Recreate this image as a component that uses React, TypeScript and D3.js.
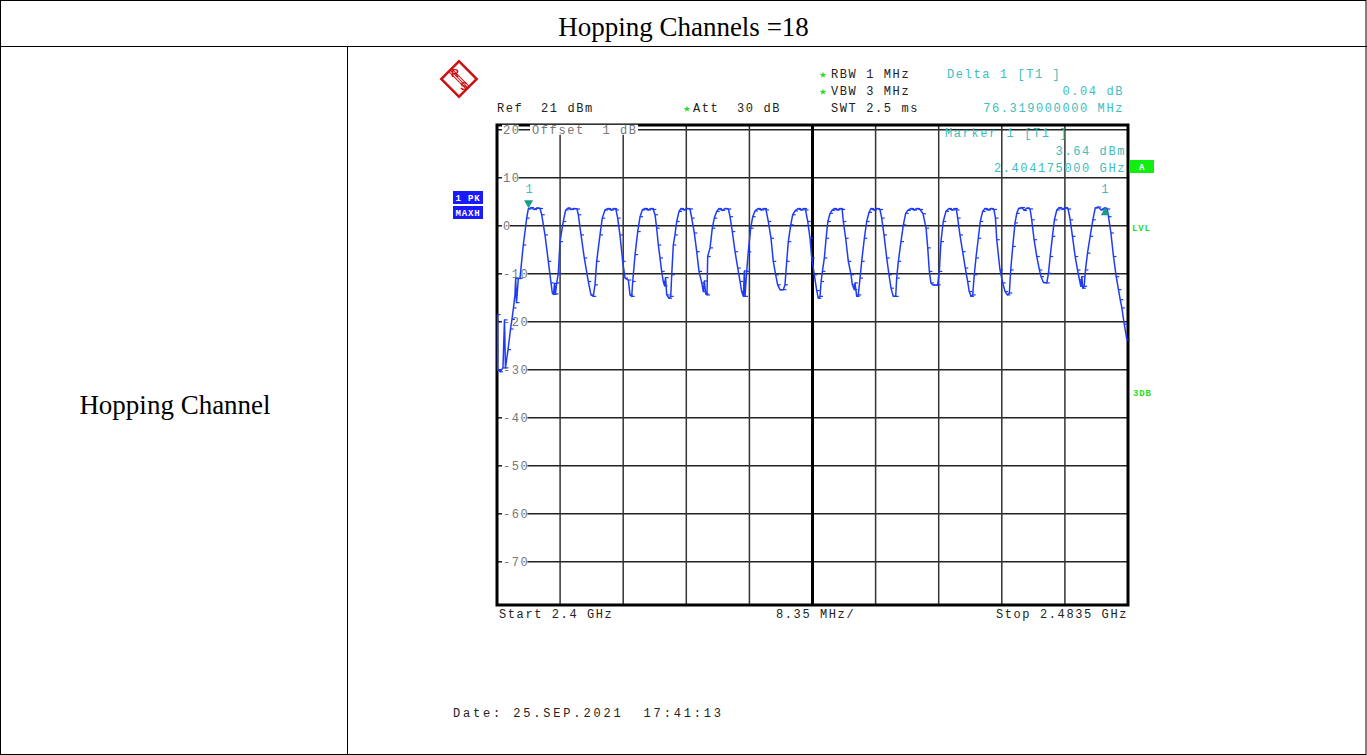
import React, { useEffect, useRef } from "react";
import * as d3 from "d3";

// frequency offset from 2400 MHz, level in dBm (max hold trace)
const trace: [number, number][] = [
  [0.07, -18.5], [0.07, -30], [0.4, -30.4], [0.79, -29.6], [0.99, -19.6], [1.12, -29.6], [1.46, -25.8],
  [1.79, -21.5], [1.98, -19.5], [2.18, -17.1], [2.38, -14.4], [2.47, -11], [2.58, -16], [2.82, -11],
  [3.04, -10.9], [3.48, -4], [3.93, 1.6], [4.14, 3.5], [4.5, 3.8], [4.9, 3.4], [5.29, 3.7], [5.69, 3.6],
  [5.92, 2.3], [6.35, -1.9], [6.79, -7.4], [7.15, -11.9], [7.32, -14], [7.48, -14.3], [7.61, -12],
  [7.74, -14.2], [7.9, -11.9], [8.11, -9.9], [8.34, -3.3], [8.77, 0.9], [9.09, 3.3], [9.4, 3.7],
  [9.79, 3.4], [10.19, 3.6], [10.59, 3.5],
  [10.76, 2.3], [11.12, -1.9], [11.55, -6.7], [12.08, -11.6], [12.44, -14.4], [12.74, -14.7],
  [12.97, -12.3], [13.19, -7.4], [13.63, -1.9], [13.93, 1.6], [14.29, 3.3], [14.69, 3.6], [15.09, 3.3],
  [15.49, 3.6], [15.75, 3.3],
  [15.97, 1.6], [16.27, -1.9], [16.63, -7.4], [16.94, -10.9], [17.38, -11.3], [17.6, -14.4],
  [17.83, -14.7], [17.96, -11.6], [18.27, -6], [18.62, -1.2], [18.93, 1.9], [19.23, 3.3], [19.59, 3.6],
  [19.98, 3.3], [20.38, 3.6], [20.68, 3.4],
  [20.91, 2.3], [21.13, -0.5], [21.35, -4], [21.57, -6.7], [21.79, -9.5], [22.0, -11.6], [22.17, -12.5],
  [22.3, -10.8], [22.46, -14.4], [22.76, -15.1], [22.99, -14.7], [23.12, -10.2], [23.33, -4],
  [23.55, -1.9], [23.78, 0.9], [24.09, 3], [24.35, 3.6], [24.75, 3.3], [25.14, 3.6], [25.54, 3.5],
  [25.77, 1.6], [26.11, -1.5], [26.43, -5.4], [26.73, -9.5], [27.09, -11.9], [27.3, -13.7],
  [27.43, -11.5], [27.62, -14.2], [27.79, -14.4], [27.88, -6.4], [28.19, -4.6], [28.49, -0.5],
  [28.75, 1.6], [29.07, 3], [29.38, 3.6], [29.78, 3.2], [30.18, 3.6], [30.62, 3.5],
  [30.84, 1.9], [31.14, -1.2], [31.5, -5.4], [31.86, -8.8], [32.16, -11.6], [32.38, -13.7],
  [32.6, -14.7], [32.73, -9.4], [32.82, -14.7], [33.04, -9.5], [33.25, -5.4], [33.57, -0.5],
  [33.84, 1.9], [34.14, 3.1], [34.54, 3.6], [34.94, 3.3], [35.33, 3.6], [35.6, 3.3],
  [35.9, 0.9], [36.26, -2.6], [36.56, -7.4], [36.88, -10.2], [37.14, -12.3], [37.45, -13.3],
  [37.89, -13.3], [38.11, -12.3], [38.34, -7.4], [38.55, -3.3], [38.87, 0.2], [39.13, 2.3],
  [39.44, 3.1], [39.83, 3.6], [40.23, 3.3], [40.63, 3.6], [40.83, 3.3],
  [41.12, 0.9], [41.42, -2.6], [41.65, -6.7], [41.99, -10.2], [42.31, -13.5], [42.52, -15.1],
  [42.75, -14.7], [42.89, -11.6], [43.06, -9.5], [43.32, -6.7], [43.55, -2.6], [43.78, 0.9],
  [44.08, 2.6], [44.32, 3.2], [44.62, 3.6], [45.02, 3.3], [45.42, 3.6], [45.68, 3.4],
  [45.83, 0.9], [46.14, -2.6], [46.49, -7.4], [46.85, -10.2], [47.02, -12.3], [47.28, -13.3],
  [47.37, -11.9], [47.6, -14.7], [47.81, -14.4], [48.04, -10.9], [48.26, -7.4], [48.61, -2.6],
  [48.92, 0.9], [49.23, 2.8], [49.49, 3.6], [49.89, 3.3], [50.28, 3.6], [50.68, 3.4],
  [50.91, 1.6], [51.21, -1.9], [51.57, -6.7], [51.87, -10.2], [52.14, -13], [52.44, -14.7],
  [52.76, -14.7], [52.89, -10.9], [53.11, -7.4], [53.46, -3.3], [53.77, 0.2], [54.08, 2.6],
  [54.35, 3.2], [54.79, 3.6], [55.18, 3.3], [55.58, 3.6], [55.98, 3.4],
  [56.38, 2.5], [56.78, -0.5], [57.0, -4.6], [57.21, -9.5], [57.42, -11.9], [57.65, -12.3],
  [58.09, -12.4], [58.31, -12.3], [58.53, -9.5], [58.75, -3.3], [59.05, 0.9], [59.41, 3],
  [59.81, 3.6], [60.2, 3.3], [60.6, 3.6], [60.8, 3.3],
  [60.96, 1.6], [61.26, -1.9], [61.62, -5.4], [61.97, -8.8], [62.28, -11.6], [62.49, -13.7],
  [62.72, -14.7], [62.95, -14.4], [63.16, -10.2], [63.38, -6.7], [63.69, -2.6], [63.95, 0.9],
  [64.27, 3], [64.57, 3.6], [64.97, 3.3], [65.37, 3.6], [65.76, 3.4],
  [65.96, 1.6], [66.13, -2.9], [66.56, -9.2], [66.92, -11.9], [67.23, -13.7], [67.53, -14.4],
  [67.8, -14], [67.98, -9.2], [68.25, -4.3], [68.55, 0.6], [68.78, 2.6], [69.02, 3.6], [69.48, 3.8],
  [69.75, 3.2], [70.14, 3.7], [70.54, 3.5],
  [70.76, 1.25], [71.07, -2.9], [71.43, -6.4], [71.78, -9.2], [72.0, -10.6], [72.31, -11.8],
  [72.76, -11.9], [72.97, -9.9], [73.2, -6.4], [73.5, -2.2], [73.76, 1.25], [74.08, 3.3],
  [74.39, 3.8], [74.79, 3.4], [75.18, 3.8], [75.58, 3.5],
  [75.85, 1.25], [76.15, -2.2], [76.51, -6.4], [76.82, -9.2], [77.08, -11.25], [77.26, -12.6],
  [77.39, -10.6], [77.52, -13], [77.7, -12.6], [77.87, -9.2], [78.14, -5.7], [78.49, -2.2],
  [78.85, 1.25], [79.16, 3.7], [79.55, 3.9], [79.95, 3.3], [80.35, 3.7], [80.75, 3.5],
  [80.92, 1.9], [81.24, -1.5], [81.58, -6.4], [81.94, -10.6], [82.24, -13.3], [82.47, -15.4],
  [82.69, -17.1], [83.0, -20.5], [83.36, -23.75],
];

const levelTicks = [20, 10, 0, -10, -20, -30, -40, -50, -60, -70];
const spanMHz = 83.5;
const divisions = 10;
const marker1: [number, number] = [4.175, 3.64];
const delta1: [number, number] = [4.175 + 76.319, 3.68];

const App = () => {
  const ref = useRef<SVGSVGElement>(null);

  useEffect(() => {
    const svg = d3.select(ref.current);
    svg.selectAll("*").remove();

    const W = 1367, H = 755;
    const mono = "'Liberation Mono', monospace";
    const cyan = "#3dbdbd";
    const green = "#1fdd1f";
    const blue = "#1a1aff";

    // ---- table ----
    const tbl = svg.append("g").attr("stroke", "#000").attr("stroke-width", 1);
    tbl.append("rect").attr("x", 0.5).attr("y", 0.5).attr("width", W - 1.5).attr("height", H - 1).attr("fill", "none");
    tbl.append("line").attr("x1", 0).attr("x2", W).attr("y1", 46.5).attr("y2", 46.5);
    tbl.append("line").attr("x1", 347.5).attr("x2", 347.5).attr("y1", 46).attr("y2", H);

    svg.append("text").attr("x", W / 2).attr("y", 36).attr("text-anchor", "middle")
      .style("font-family", "'Liberation Serif', serif").style("font-size", "27px")
      .text("Hopping Channels =18");
    svg.append("text").attr("x", 175).attr("y", 414).attr("text-anchor", "middle")
      .style("font-family", "'Liberation Serif', serif").style("font-size", "27px")
      .text("Hopping Channel");

    // ---- analyzer screen ----
    const x = d3.scaleLinear().domain([0, spanMHz]).range([497, 1128]);
    const y = d3.scaleLinear().domain([-79, 21]).range([605, 125]);

    const txt = (tx: number, ty: number, s: string, color = "#222", anchor = "start") =>
      svg.append("text").attr("x", tx).attr("y", ty).attr("text-anchor", anchor)
        .attr("fill", color).style("font-family", mono).style("font-size", "12px")
        .style("letter-spacing", "1.6px").style("white-space", "pre").text(s);

    // grid
    const grid = svg.append("g");
    levelTicks.forEach((v) => {
      grid.append("line").attr("x1", x(0)).attr("x2", x(spanMHz)).attr("y1", y(v)).attr("y2", y(v))
        .attr("stroke", "#222").attr("stroke-width", 1.5);
    });
    d3.range(1, divisions).forEach((i) => {
      grid.append("line").attr("x1", x(i * spanMHz / divisions)).attr("x2", x(i * spanMHz / divisions))
        .attr("y1", y(21)).attr("y2", y(-79))
        .attr("stroke", i === 5 ? "#000" : "#333").attr("stroke-width", i === 5 ? 3 : 1.5);
    });
    grid.append("rect").attr("x", x(0)).attr("y", y(21)).attr("width", x(spanMHz) - x(0))
      .attr("height", y(-79) - y(21)).attr("fill", "none").attr("stroke", "#000").attr("stroke-width", 3);

    // level labels
    levelTicks.forEach((v) => {
      const s = String(v);
      const w = s.length * 8.8;
      grid.append("rect").attr("x", x(0) + 5).attr("y", y(v) - 5).attr("width", w - 1).attr("height", 10).attr("fill", "#fff");
      txt(x(0) + 6, y(v) + 4, s, "#777");
    });
    svg.append("rect").attr("x", 530).attr("y", y(20) - 5).attr("width", 108).attr("height", 10).attr("fill", "#fff");
    txt(532, y(20) + 4, "Offset  1 dB", "#777");

    // header texts
    txt(497, 112, "Ref  21 dBm");
    txt(693, 112, "Att  30 dB");
    txt(831, 78, "RBW 1 MHz");
    txt(831, 95, "VBW 3 MHz");
    txt(831, 112, "SWT 2.5 ms");
    [[687, 112], [823, 78], [823, 95]].forEach(([sx, sy]) =>
      svg.append("path").attr("d", d3.symbol(d3.symbolStar, 14)() as string)
        .attr("transform", `translate(${sx},${sy - 3})`).attr("fill", green));
    txt(947, 78, "Delta 1 [T1 ]", cyan);
    txt(1124, 95, "0.04 dB", cyan, "end");
    txt(1124, 112, "76.319000000 MHz", cyan, "end");
    txt(945, 137, "Marker 1 [T1 ]", cyan);
    txt(1126, 155, "3.64 dBm", cyan, "end");
    txt(1126, 172, "2.404175000 GHz", cyan, "end");

    // bottom texts
    txt(499, 618, "Start 2.4 GHz");
    txt(776, 618, "8.35 MHz/");
    txt(1128, 618, "Stop 2.4835 GHz", "#222", "end");
    svg.append("text").attr("x", 453).attr("y", 717).attr("fill", "#222")
      .style("font-family", mono).style("font-size", "12px").style("white-space", "pre")
      .attr("textLength", 268).attr("lengthAdjust", "spacing")
      .text("Date: 25.SEP.2021  17:41:13");

    // side boxes
    const boxText = (bx: number, by: number, s: string, color: string, anchor = "middle") =>
      svg.append("text").attr("x", bx).attr("y", by).attr("text-anchor", anchor).attr("fill", color)
        .style("font-family", mono).style("font-size", "9px").style("font-weight", "bold")
        .style("letter-spacing", "0.8px").style("white-space", "pre").text(s);
    [["1 PK", 191], ["MAXH", 206]].forEach(([s, by]) => {
      svg.append("rect").attr("x", 453).attr("y", by as number).attr("width", 30).attr("height", 13).attr("fill", blue);
      boxText(468, (by as number) + 10, s as string, "#fff");
    });
    svg.append("rect").attr("x", 1130).attr("y", 160).attr("width", 24).attr("height", 13).attr("fill", "#11ee11");
    boxText(1142, 170, "A", "#fff");
    boxText(1132, 231, "LVL", green, "start");
    boxText(1133, 396, "3DB", green, "start");

    // R&S logo
    const logo = svg.append("g").attr("transform", "translate(459,79) rotate(45)");
    logo.append("rect").attr("x", -12.5).attr("y", -12.5).attr("width", 25).attr("height", 25)
      .attr("fill", "#fff").attr("stroke", "#cc1111").attr("stroke-width", 2.5);
    [-2, 0, 2].forEach((o) => logo.append("line").attr("x1", -12).attr("x2", 12).attr("y1", o).attr("y2", o)
      .attr("stroke", "#cc1111").attr("stroke-width", 1));
    svg.append("text").attr("x", 455).attr("y", 77).attr("text-anchor", "middle").attr("fill", "#cc1111")
      .style("font-family", "'Liberation Sans', sans-serif").style("font-size", "11px").style("font-weight", "bold").text("R");
    svg.append("text").attr("x", 464).attr("y", 90).attr("text-anchor", "middle").attr("fill", "#cc1111")
      .style("font-family", "'Liberation Sans', sans-serif").style("font-size", "11px").style("font-weight", "bold").text("S");

    // trace
    const line = d3.line<[number, number]>().x((d) => x(d[0])).y((d) => y(d[1]));
    svg.append("path").datum(trace).attr("d", line).attr("fill", "none")
      .attr("stroke", "#1f3cf5").attr("stroke-width", 1.5).attr("stroke-linejoin", "round");
    svg.append("g").selectAll("line").data(trace).enter().append("line")
      .attr("x1", (d) => x(d[0])).attr("x2", (d) => x(d[0]) + 3)
      .attr("y1", (d) => y(d[1])).attr("y2", (d) => y(d[1]))
      .attr("stroke", "#1f3cf5").attr("stroke-width", 1.2);

    // markers
    const mx = x(marker1[0]), my = y(marker1[1]);
    svg.append("path").attr("d", `M${mx - 4.5},${my - 8}L${mx + 4.5},${my - 8}L${mx},${my}Z`).attr("fill", "#179c8c");
    txt(mx - 3, my - 15, "1", cyan);
    const dx = x(delta1[0]), dy = y(delta1[1]);
    svg.append("path").attr("d", `M${dx - 4.5},${dy + 7}L${dx + 4.5},${dy + 7}L${dx},${dy - 1}Z`).attr("fill", "#179c8c");
    txt(dx - 4, dy - 15, "1", cyan);
  }, []);

  return (
    <svg ref={ref} width={1367} height={755}
      style={{ position: "absolute", left: 0, top: 0, display: "block", background: "#fff" }} />
  );
};

export default App;
